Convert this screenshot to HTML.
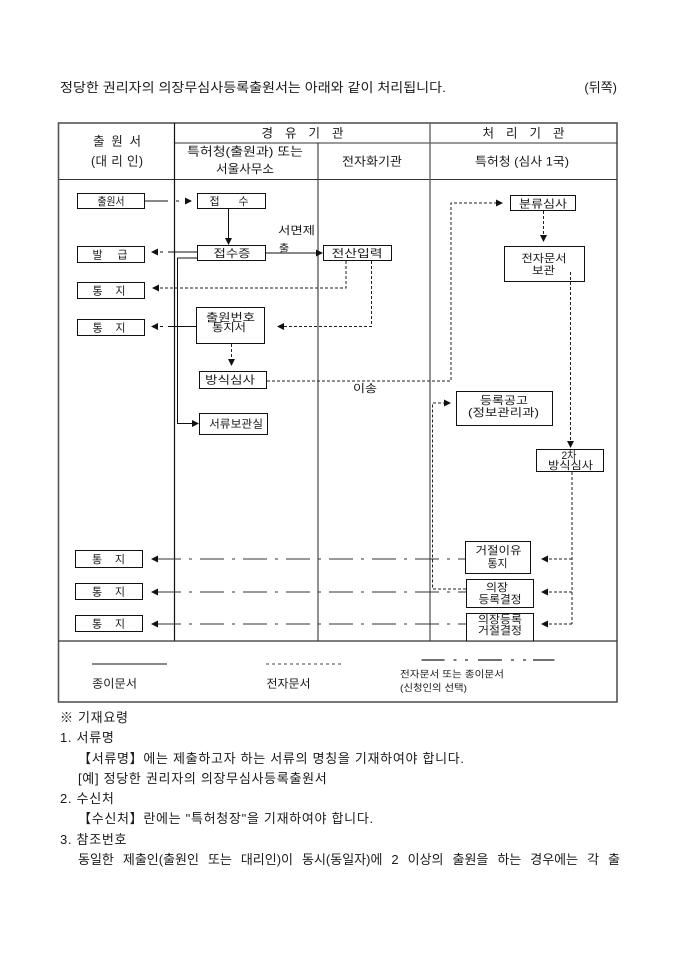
<!DOCTYPE html>
<html lang="ko">
<head>
<meta charset="utf-8">
<style>
  html,body{margin:0;padding:0;background:#fff;}
  body{width:680px;height:962px;position:relative;overflow:hidden;
       font-family:"Liberation Sans","Noto Sans CJK KR",sans-serif;color:#1a1a1a;}
  svg{position:absolute;left:0;top:0;}
  .t{font-family:"Liberation Sans","Noto Sans CJK KR",sans-serif;fill:#1a1a1a;}
  #notes{position:absolute;left:60px;top:708px;font-size:13px;line-height:20.3px;white-space:nowrap;letter-spacing:0.7px;}
  #notes div{height:20.3px;}
  #notes .in{margin-left:18px;}
  #notes .just{width:542px;text-align:justify;text-align-last:justify;white-space:normal;letter-spacing:0;}
</style>
</head>
<body>
<svg width="680" height="962" viewBox="0 0 680 962" xmlns="http://www.w3.org/2000/svg">
  <!-- title -->
  <text class="t" x="60" y="92" font-size="13" textLength="386" lengthAdjust="spacingAndGlyphs">정당한 권리자의 의장무심사등록출원서는 아래와 같이 처리됩니다.</text>
  <text class="t" x="617" y="92" font-size="13" text-anchor="end">(뒤쪽)</text>

  <!-- table frame -->
  <rect x="58.5" y="123" width="558.5" height="579" fill="none" stroke="#555" stroke-width="1.6"/>
  <line x1="175" y1="143" x2="617" y2="143" stroke="#333" stroke-width="1"/>
  <line x1="58.5" y1="179.5" x2="617" y2="179.5" stroke="#333" stroke-width="1"/>
  <line x1="174.5" y1="123" x2="174.5" y2="641" stroke="#111" stroke-width="1.2"/>
  <line x1="318" y1="143" x2="318" y2="641" stroke="#222" stroke-width="1"/>
  <line x1="430" y1="123" x2="430" y2="641" stroke="#666" stroke-width="1.4"/>
  <line x1="58.5" y1="641" x2="617" y2="641" stroke="#333" stroke-width="1.2"/>

  <!-- header text -->
  <text class="t" x="117" y="145.5" font-size="12.5" text-anchor="middle" textLength="48" lengthAdjust="spacing">출 원 서</text>
  <text class="t" x="117" y="165.5" font-size="12.5" text-anchor="middle" textLength="52" lengthAdjust="spacing">(대 리 인)</text>
  <text class="t" x="302.5" y="137.5" font-size="12.5" text-anchor="middle" textLength="82" lengthAdjust="spacing">경 유 기 관</text>
  <text class="t" x="523.5" y="137.5" font-size="12.5" text-anchor="middle" textLength="82" lengthAdjust="spacing">처 리 기 관</text>
  <text class="t" x="245" y="155.5" font-size="12" text-anchor="middle" textLength="116" lengthAdjust="spacingAndGlyphs">특허청(출원과) 또는</text>
  <text class="t" x="245" y="173" font-size="12" text-anchor="middle" textLength="58" lengthAdjust="spacingAndGlyphs">서울사무소</text>
  <text class="t" x="372" y="165.5" font-size="12" text-anchor="middle" textLength="60" lengthAdjust="spacingAndGlyphs">전자화기관</text>
  <text class="t" x="522" y="165.5" font-size="12" text-anchor="middle" textLength="94" lengthAdjust="spacingAndGlyphs">특허청 (심사 1국)</text>

  <!-- boxes -->
  <g fill="#fff" stroke="#111" stroke-width="1">
    <rect x="77.5" y="193.5" width="67" height="15"/>
    <rect x="197.5" y="193.5" width="68" height="15"/>
    <rect x="197.5" y="245.5" width="68" height="15"/>
    <rect x="323.5" y="245.5" width="68" height="15"/>
    <rect x="77.5" y="246.5" width="67" height="16"/>
    <rect x="77.5" y="282.5" width="67" height="16"/>
    <rect x="77.5" y="319.5" width="67" height="16"/>
    <rect x="196.5" y="307.5" width="68" height="36"/>
    <rect x="199.5" y="371.5" width="67" height="17"/>
    <rect x="199.5" y="413.5" width="68" height="21"/>
    <rect x="510.5" y="195.5" width="65" height="15"/>
    <rect x="504.5" y="246.5" width="80" height="35"/>
    <rect x="456.5" y="391.5" width="96" height="34"/>
    <rect x="536.5" y="449.5" width="67" height="22"/>
    <rect x="75.5" y="550.5" width="67" height="17"/>
    <rect x="75.5" y="583.5" width="67" height="16"/>
    <rect x="75.5" y="615.5" width="67" height="16"/>
    <rect x="465.5" y="541.5" width="65" height="32"/>
    <rect x="466.5" y="579.5" width="67" height="28"/>
    <rect x="466.5" y="613.5" width="67" height="27.5"/>
  </g>

  <!-- box labels -->
  <g class="t" font-size="11" text-anchor="middle">
    <text class="t" x="111" y="205" textLength="27" lengthAdjust="spacingAndGlyphs">출원서</text>
    <text class="t" x="229" y="205" textLength="39" lengthAdjust="spacing">접 수</text>
    <text class="t" x="232" y="257" textLength="37" lengthAdjust="spacingAndGlyphs">접수증</text>
    <text class="t" x="357" y="257" textLength="51" lengthAdjust="spacingAndGlyphs">전산입력</text>
    <text class="t" x="110" y="258.5" textLength="35" lengthAdjust="spacing">발 급</text>
    <text class="t" x="109" y="294.5" textLength="33" lengthAdjust="spacing">통 지</text>
    <text class="t" x="109" y="331.5" textLength="33" lengthAdjust="spacing">통 지</text>
    <text class="t" x="230.5" y="321" textLength="49" lengthAdjust="spacingAndGlyphs">출원번호</text>
    <text class="t" x="229" y="331" textLength="34" lengthAdjust="spacingAndGlyphs">통지서</text>
    <text class="t" x="230" y="383.5" textLength="50" lengthAdjust="spacingAndGlyphs">방식심사</text>
    <text class="t" x="236" y="427.5" textLength="54" lengthAdjust="spacingAndGlyphs">서류보관실</text>
    <text class="t" x="543" y="207.5" textLength="48" lengthAdjust="spacingAndGlyphs">분류심사</text>
    <text class="t" x="544" y="262" textLength="45" lengthAdjust="spacingAndGlyphs">전자문서</text>
    <text class="t" x="543.5" y="274" textLength="23" lengthAdjust="spacingAndGlyphs">보관</text>
    <text class="t" x="504" y="404" textLength="48" lengthAdjust="spacingAndGlyphs">등록공고</text>
    <text class="t" x="503.5" y="416" textLength="71" lengthAdjust="spacingAndGlyphs">(정보관리과)</text>
    <text class="t" x="569" y="459" textLength="15" lengthAdjust="spacingAndGlyphs">2차</text>
    <text class="t" x="570.5" y="469" textLength="45" lengthAdjust="spacingAndGlyphs">방식심사</text>
    <text class="t" x="108.5" y="563" textLength="33" lengthAdjust="spacing">통 지</text>
    <text class="t" x="108.5" y="595.5" textLength="33" lengthAdjust="spacing">통 지</text>
    <text class="t" x="108.5" y="627.5" textLength="33" lengthAdjust="spacing">통 지</text>
    <text class="t" x="498.5" y="554" textLength="46" lengthAdjust="spacingAndGlyphs">거절이유</text>
    <text class="t" x="497.5" y="567" textLength="20" lengthAdjust="spacingAndGlyphs">통지</text>
    <text class="t" x="497" y="591" textLength="22" lengthAdjust="spacingAndGlyphs">의장</text>
    <text class="t" x="500" y="603" textLength="43" lengthAdjust="spacingAndGlyphs">등록결정</text>
    <text class="t" x="500" y="623" textLength="44" lengthAdjust="spacingAndGlyphs">의장등록</text>
    <text class="t" x="500" y="634" textLength="44" lengthAdjust="spacingAndGlyphs">거절결정</text>
    <text class="t" x="296.5" y="234" textLength="37" lengthAdjust="spacingAndGlyphs">서면제</text>
    <text class="t" x="284" y="252">출</text>
    <text class="t" x="365" y="392" textLength="24" lengthAdjust="spacingAndGlyphs">이송</text>
  </g>

  <!-- solid connectors -->
  <g stroke="#111" stroke-width="1" fill="none">
    <line x1="145" y1="201" x2="168" y2="201"/>
    <line x1="176" y1="201" x2="179" y2="201"/>
    <line x1="228.5" y1="208" x2="228.5" y2="239"/>
    <line x1="266" y1="253" x2="317" y2="253"/>
    <line x1="198" y1="252" x2="168" y2="252"/>
    <line x1="160" y1="252" x2="163" y2="252"/>
    <polyline points="198,258 177.5,258 177.5,423.5 193,423.5"/>
    <line x1="196" y1="326.5" x2="168" y2="326.5"/>
    <line x1="160" y1="326.5" x2="163" y2="326.5"/>
  </g>

  <!-- dotted connectors -->
  <g stroke="#222" stroke-width="1" fill="none" stroke-dasharray="3,2">
    <polyline points="346,261 346,288 158,288"/>
    <polyline points="371.5,261 371.5,326.5 283,326.5"/>
    <line x1="231.5" y1="344" x2="231.5" y2="360"/>
    <polyline points="267,381 451,381 451,203 496,203"/>
    <line x1="543.5" y1="211" x2="543.5" y2="236"/>
    <line x1="570.5" y1="272" x2="570.5" y2="442"/>
    <line x1="572" y1="472" x2="572" y2="624"/>
    <line x1="572" y1="559" x2="548" y2="559"/>
    <line x1="572" y1="592" x2="548" y2="592"/>
    <line x1="572" y1="624" x2="548" y2="624"/>
    <polyline points="466,589 432.5,589 432.5,403 444,403"/>
  </g>

  <!-- dash-dot connectors -->
  <g stroke="#333" stroke-width="1.1" fill="none" stroke-dasharray="24,8,3,8">
    <line x1="157" y1="559" x2="465" y2="559"/>
    <line x1="157" y1="592" x2="466" y2="592"/>
    <line x1="157" y1="624" x2="466" y2="624"/>
  </g>

  <!-- arrowheads -->
  <g fill="#111">
    <polygon points="192,201 185,197.5 185,204.5"/>
    <polygon points="228.5,245 225,238 232,238"/>
    <polygon points="323,253 316,249.5 316,256.5"/>
    <polygon points="151,252 158,248.5 158,255.5"/>
    <polygon points="199,423.5 192,420 192,427"/>
    <polygon points="152,288 159,284.5 159,291.5"/>
    <polygon points="277,326.5 284,323 284,330"/>
    <polygon points="151,326.5 158,323 158,330"/>
    <polygon points="231.5,366 228,359 235,359"/>
    <polygon points="503,203 496,199.5 496,206.5"/>
    <polygon points="543.5,242 540,235 547,235"/>
    <polygon points="570.5,448 567,441 574,441"/>
    <polygon points="541,559 548,555.5 548,562.5"/>
    <polygon points="541,592 548,588.5 548,595.5"/>
    <polygon points="541,624 548,620.5 548,627.5"/>
    <polygon points="451,403 444,399.5 444,406.5"/>
    <polygon points="151,559 158,555.5 158,562.5"/>
    <polygon points="151,592 158,588.5 158,595.5"/>
    <polygon points="151,624 158,620.5 158,627.5"/>
  </g>

  <!-- legend -->
  <line x1="92" y1="664" x2="167" y2="664" stroke="#444" stroke-width="1.2"/>
  <line x1="266" y1="664" x2="343" y2="664" stroke="#444" stroke-width="1" stroke-dasharray="3,3"/>
  <g stroke="#444" stroke-width="1.4">
    <line x1="421.5" y1="660" x2="444.5" y2="660"/>
    <line x1="453.5" y1="660" x2="456.5" y2="660"/>
    <line x1="465" y1="660" x2="468" y2="660"/>
    <line x1="478" y1="660" x2="502" y2="660"/>
    <line x1="511" y1="660" x2="514" y2="660"/>
    <line x1="523" y1="660" x2="526" y2="660"/>
    <line x1="533" y1="660" x2="554.5" y2="660"/>
  </g>
  <text class="t" x="92" y="687.5" font-size="11.5" textLength="45" lengthAdjust="spacingAndGlyphs">종이문서</text>
  <text class="t" x="266.5" y="687.5" font-size="11.5" textLength="44" lengthAdjust="spacingAndGlyphs">전자문서</text>
  <text class="t" x="400" y="677.5" font-size="9.5" textLength="104" lengthAdjust="spacingAndGlyphs">전자문서 또는 종이문서</text>
  <text class="t" x="400" y="691" font-size="9.5" textLength="67" lengthAdjust="spacingAndGlyphs">(신청인의 선택)</text>
</svg>

<div id="notes">
  <div>※ 기재요령</div>
  <div>1. 서류명</div>
  <div class="in">【서류명】에는 제출하고자 하는 서류의 명칭을 기재하여야 합니다.</div>
  <div class="in">[예] 정당한 권리자의 의장무심사등록출원서</div>
  <div>2. 수신처</div>
  <div class="in">【수신처】란에는 "특허청장"을 기재하여야 합니다.</div>
  <div>3. 참조번호</div>
  <div class="in just">동일한 제출인(출원인 또는 대리인)이 동시(동일자)에 2 이상의 출원을 하는 경우에는 각 출</div>
</div>
</body>
</html>
